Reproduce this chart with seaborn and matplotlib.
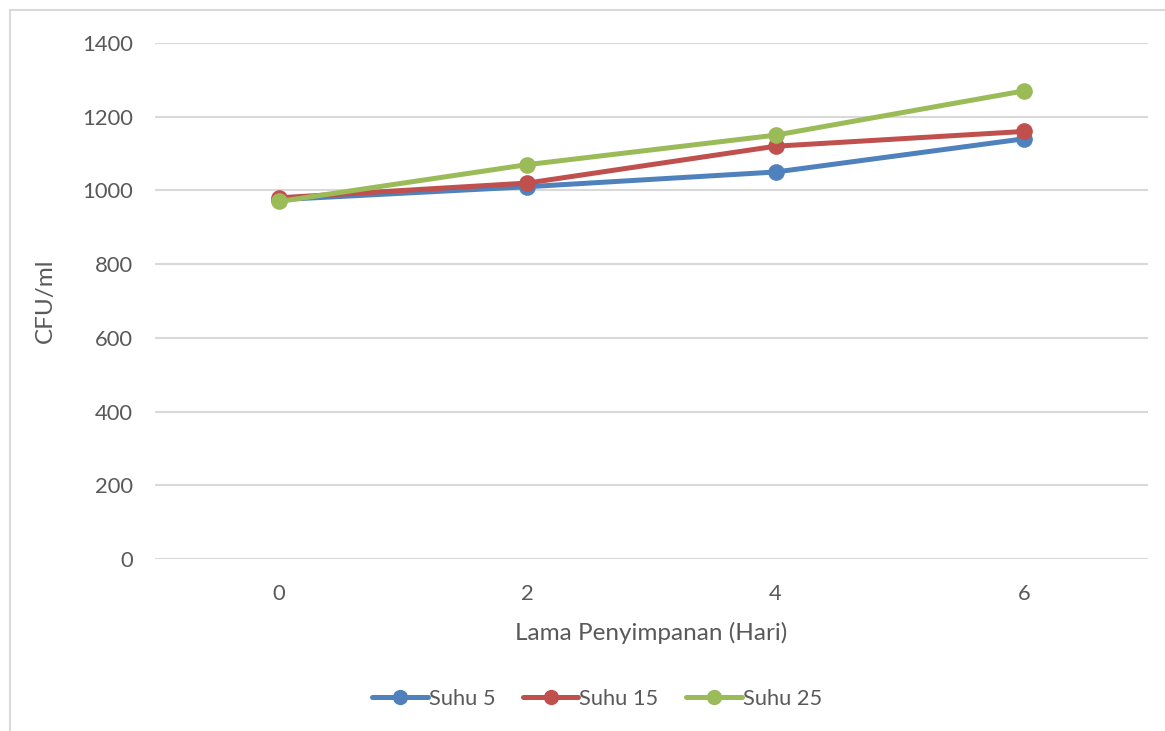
import matplotlib
matplotlib.use("Agg")
import matplotlib.pyplot as plt
from matplotlib.patches import Rectangle
from matplotlib.lines import Line2D
import seaborn as sns
import pandas as pd

# Storage time (days) and colony counts per storage temperature
hari = ["0", "2", "4", "6"]
suhu_5 = [975, 1010, 1050, 1140]
suhu_15 = [980, 1020, 1120, 1160]
suhu_25 = [970, 1070, 1150, 1270]
series_names = ["Suhu 5", "Suhu 15", "Suhu 25"]
colors = ["#4F81BD", "#C0504D", "#9BBB59"]

df = pd.DataFrame({
    "Hari": hari * 3,
    "CFU": suhu_5 + suhu_15 + suhu_25,
    "Seri": [s for s in series_names for _ in hari],
})

sns.set_theme(style="white")
plt.rcParams["font.family"] = ["Lato", "DejaVu Sans"]
text_color = "#595959"
grid_color = "#D9D9D9"

fig = plt.figure(figsize=(11.65, 7.31), dpi=100)
ax = fig.add_axes([155 / 1165, 1 - 559 / 731, (1148 - 155) / 1165, (559 - 43) / 731])

sns.lineplot(data=df, x="Hari", y="CFU", hue="Seri", palette=colors,
             marker="o", markersize=12, markeredgewidth=0, linewidth=3.6,
             legend=False, ax=ax, sort=False)

ax.set_xlim(-0.5, 3.5)
ax.set_ylim(0, 1400)
ax.set_yticks(range(0, 1401, 200))
ax.grid(axis="y", color=grid_color, linewidth=1.5)
ax.grid(axis="x", visible=False)
ax.set_axisbelow(True)
for sp in ax.spines.values():
    sp.set_visible(False)
ax.tick_params(axis="both", length=0, labelsize=15.8, colors=text_color)
ax.tick_params(axis="y", pad=16)
ax.tick_params(axis="x", pad=18)
ax.set_xlabel("Lama Penyimpanan (Hari)", fontsize=17.5, color=text_color, labelpad=13)
ax.set_ylabel("CFU/ml", fontsize=17.5, color=text_color, labelpad=19)

handles = [Line2D([0], [0], color=c, linewidth=3.6, marker="o", markersize=11,
                  markeredgewidth=0, solid_capstyle="round") for c in colors]
fig.legend(handles, series_names, loc="center", bbox_to_anchor=(597 / 1165, 1 - 699 / 731),
           ncol=3, frameon=False, fontsize=15.7, labelcolor=text_color,
           handlelength=2.55, handletextpad=0.05, columnspacing=1.25, markerscale=1.0)

# Chart area border
fig.patches.append(Rectangle((10 / 1165, -0.05), 1.2, 1 - 10 / 731 + 0.05,
                             transform=fig.transFigure, fill=False,
                             edgecolor=grid_color, linewidth=1.5))

fig.savefig("out.png", dpi=100)
